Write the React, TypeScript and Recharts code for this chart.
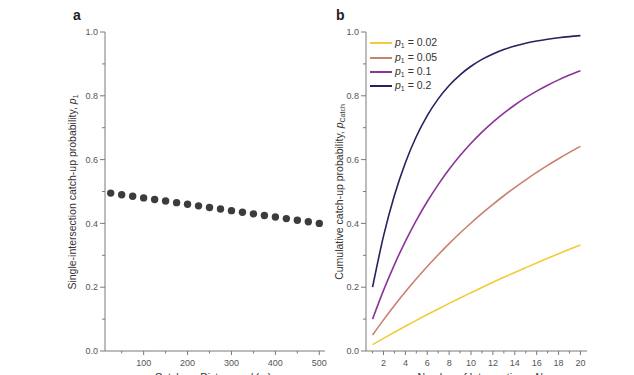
import React from 'react';
import { ScatterChart, Scatter, LineChart, Line, XAxis, YAxis, Legend } from 'recharts';

// ---------- data ----------
const distances = [25, 50, 75, 100, 125, 150, 175, 200, 225, 250, 275, 300, 325, 350, 375, 400, 425, 450, 475, 500];
const p1Values = [0.495, 0.49, 0.485, 0.48, 0.475, 0.47, 0.465, 0.46, 0.455, 0.45, 0.445, 0.44, 0.435, 0.43, 0.425, 0.42, 0.415, 0.41, 0.405, 0.4];

const intersections = [1, 2, 3, 4, 5, 6, 7, 8, 9, 10, 11, 12, 13, 14, 15, 16, 17, 18, 19, 20];
const pc002 = [0.02, 0.0396, 0.0588, 0.0776, 0.0961, 0.1142, 0.1319, 0.1492, 0.1663, 0.1829, 0.1993, 0.2153, 0.231, 0.2464, 0.2614, 0.2762, 0.2907, 0.3049, 0.3188, 0.3324];
const pc005 = [0.05, 0.0975, 0.1426, 0.1855, 0.2262, 0.2649, 0.3017, 0.3366, 0.3698, 0.4013, 0.4312, 0.4596, 0.4867, 0.5123, 0.5367, 0.5599, 0.5819, 0.6028, 0.6226, 0.6415];
const pc01 = [0.1, 0.19, 0.271, 0.3439, 0.4095, 0.4686, 0.5217, 0.5695, 0.6126, 0.6513, 0.6862, 0.7176, 0.7458, 0.7712, 0.7941, 0.8147, 0.8332, 0.8499, 0.8649, 0.8784];
const pc02 = [0.2, 0.36, 0.488, 0.5904, 0.6723, 0.7379, 0.7903, 0.8322, 0.8658, 0.8926, 0.9141, 0.9313, 0.945, 0.956, 0.9648, 0.9719, 0.9775, 0.982, 0.9856, 0.9885];

const seriesNames = ['0.02', '0.05', '0.1', '0.2'];
const seriesColors = ['#f1cc3a', '#c9806f', '#8a3597', '#2c1f5e'];

const yTicks = [0, 0.1, 0.2, 0.3, 0.4, 0.5, 0.6, 0.7, 0.8, 0.9, 1.0];
const xTicksA = [50, 100, 150, 200, 250, 300, 350, 400, 450, 500];
const xTicksB = intersections;

const dataA = distances.map((d, i) => ({ d, p: p1Values[i] }));
const dataB = intersections.map((n, i) => ({ n, a: pc002[i], b: pc005[i], c: pc01[i], d: pc02[i] }));

// ---------- style ----------
const FONT = 'Arial, "Liberation Sans", sans-serif';
const AXIS = '#7a7a7a';
const TICK = '#555';
const TITLE = '#333';

const YTick = (props: any) => {
  const { x, y, payload } = props;
  const v = payload.value as number;
  const major = Math.round(v * 10) % 2 === 0;
  return (
    <g>
      <line x1={x - (major ? 5 : 3)} x2={x} y1={y} y2={y} stroke={AXIS} strokeWidth={1} />
      {major && (
        <text x={x - 7} y={y} dy={3.2} textAnchor="end" fontSize={9} fill={TICK} fontFamily={FONT}>
          {v.toFixed(1)}
        </text>
      )}
    </g>
  );
};

const makeXTick = (isMajor: (v: number) => boolean) => (props: any) => {
  const { x, y, payload } = props;
  const v = payload.value as number;
  const major = isMajor(v);
  return (
    <g>
      <line x1={x} x2={x} y1={y} y2={y + (major ? 4 : 2.5)} stroke={AXIS} strokeWidth={1} />
      {major && (
        <text x={x} y={y + 15} textAnchor="middle" fontSize={9} fill={TICK} fontFamily={FONT}>
          {v}
        </text>
      )}
    </g>
  );
};

const XTickA = makeXTick((v) => v % 100 === 0);
const XTickB = makeXTick((v) => v % 2 === 0);

const renderLegend = (props: any) => {
  const payload = props.payload || [];
  return (
    <div style={{ fontFamily: FONT, fontSize: 10.5, color: TITLE }}>
      {payload.map((e: any) => (
        <div key={e.value} style={{ display: 'flex', alignItems: 'center', height: 14.4 }}>
          <svg width={25} height={4} style={{ display: 'block' }}>
            <line x1={0} x2={22} y1={2} y2={2} stroke={e.color} strokeWidth={2} />
          </svg>
          <span style={{ lineHeight: '12px' }}>
            <i>p</i>
            <span style={{ fontSize: 7, position: 'relative', top: 2 }}>1</span> = {e.value}
          </span>
        </div>
      ))}
    </div>
  );
};

const H = 400;

export default function App() {
  return (
    <div style={{ position: 'absolute', left: 0, top: 0, width: 634, height: 375, overflow: 'hidden', background: '#fff' }}>
      <div style={{ position: 'absolute', left: 0, top: 0 }}>
        <ScatterChart width={330} height={H} margin={{ top: 32, right: 5, bottom: H - 351 - 30, left: 45 }}>
          <XAxis
            dataKey="d"
            type="number"
            domain={[12, 513]}
            ticks={xTicksA}
            interval={0}
            tickSize={0}
            tickMargin={0}
            tickLine={false}
            tick={XTickA}
            height={30}
            axisLine={{ stroke: AXIS }}
          />
          <XAxis xAxisId="top" orientation="top" type="number" domain={[12, 513]} dataKey="d" tick={false} tickLine={false} height={0} axisLine={{ stroke: AXIS }} />
          <YAxis
            dataKey="p"
            type="number"
            domain={[0, 1]}
            ticks={yTicks}
            interval={0}
            tickSize={0}
            tickMargin={0}
            tickLine={false}
            tick={YTick}
            width={60}
            axisLine={{ stroke: AXIS }}
          />
          <YAxis yAxisId="right" orientation="right" type="number" domain={[0, 1]} dataKey="p" tick={false} tickLine={false} width={0} axisLine={{ stroke: AXIS }} />
          <Scatter
            data={dataA}
            isAnimationActive={false}
            shape={(p: any) => <circle cx={p.cx} cy={p.cy} r={3.7} fill="#3c3c3c" />}
          />
        </ScatterChart>
      </div>

      <div style={{ position: 'absolute', left: 310, top: 0 }}>
        <LineChart width={324} height={H} data={dataB} margin={{ top: 32, right: 47, bottom: H - 351 - 30, left: 16 }}>
          <XAxis
            dataKey="n"
            type="number"
            domain={[0.4, 20.6]}
            ticks={xTicksB}
            interval={0}
            tickSize={0}
            tickMargin={0}
            tickLine={false}
            tick={XTickB}
            height={30}
            axisLine={{ stroke: AXIS }}
          />
          <XAxis xAxisId="top" orientation="top" type="number" domain={[0.4, 20.6]} dataKey="n" tick={false} tickLine={false} height={0} axisLine={{ stroke: AXIS }} />
          <YAxis
            type="number"
            domain={[0, 1]}
            ticks={yTicks}
            interval={0}
            tickSize={0}
            tickMargin={0}
            tickLine={false}
            tick={YTick}
            width={40}
            axisLine={{ stroke: AXIS }}
          />
          <YAxis yAxisId="right" orientation="right" type="number" domain={[0, 1]} tick={false} tickLine={false} width={0} axisLine={{ stroke: AXIS }} />
          <Line dataKey="a" name={seriesNames[0]} stroke={seriesColors[0]} strokeWidth={1.6} dot={false} type="monotone" isAnimationActive={false} />
          <Line dataKey="b" name={seriesNames[1]} stroke={seriesColors[1]} strokeWidth={1.6} dot={false} type="monotone" isAnimationActive={false} />
          <Line dataKey="c" name={seriesNames[2]} stroke={seriesColors[2]} strokeWidth={1.6} dot={false} type="monotone" isAnimationActive={false} />
          <Line dataKey="d" name={seriesNames[3]} stroke={seriesColors[3]} strokeWidth={1.6} dot={false} type="monotone" isAnimationActive={false} />
          <Legend
            layout="vertical"
            align="center"
            verticalAlign="middle"
            content={renderLegend}
            wrapperStyle={{ left: 60, top: 36, width: 'auto', height: 'auto' }}
          />
        </LineChart>
      </div>

      <svg width={634} height={375} style={{ position: 'absolute', left: 0, top: 0, pointerEvents: 'none' }} fontFamily={FONT}>
        <text x={73} y={20} fontSize={14} fontWeight="bold" fill="#222">a</text>
        <text x={336} y={20} fontSize={14} fontWeight="bold" fill="#222">b</text>
        <text transform="translate(76,192) rotate(-90)" textAnchor="middle" fontSize={10.5} fill={TITLE}>
          Single-intersection catch-up probability, <tspan fontStyle="italic">p</tspan>
          <tspan fontSize={7} dy={2}>1</tspan>
        </text>
        <text transform="translate(343,192) rotate(-90)" textAnchor="middle" fontSize={10.5} fill={TITLE}>
          Cumulative catch-up probability, <tspan fontStyle="italic">p</tspan>
          <tspan fontSize={7} dy={2}>Catch</tspan>
        </text>
        <text x={213} y={381} textAnchor="middle" fontSize={10.5} fill={TITLE}>
          Catch-up Distance, <tspan fontStyle="italic">d</tspan> (m)
        </text>
        <text x={480} y={381} textAnchor="middle" fontSize={10.5} fill={TITLE}>
          Number of Intersections, <tspan fontStyle="italic">N</tspan>
        </text>
      </svg>
    </div>
  );
}
